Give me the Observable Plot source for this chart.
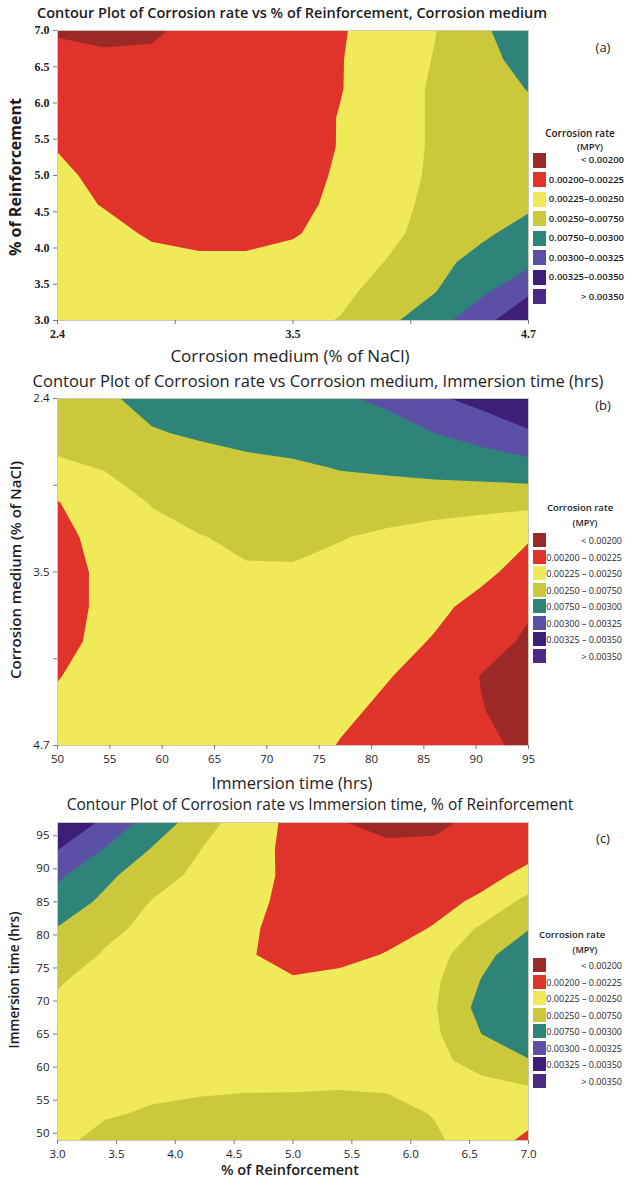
<!DOCTYPE html>
<html><head><meta charset="utf-8">
<script src="https://cdn.jsdelivr.net/npm/d3@7"></script>
<script src="https://cdn.jsdelivr.net/npm/@observablehq/plot@0.6"></script>
<style>
body{margin:0;background:#fff;}
#page{position:relative;width:635px;height:1180px;overflow:hidden;background:#fff;}
#page svg{position:absolute;left:0;}
</style></head>
<body><div id="page"></div>
<script>
// ---------- legend ----------
const rateThresholds = [0.00200, 0.00225, 0.00250, 0.00275, 0.00300, 0.00325, 0.00350];
const levelLabels = ["< 0.00200", "0.00200 – 0.00225", "0.00225 – 0.00250", "0.00250 – 0.00750",
  "0.00750 – 0.00300", "0.00300 – 0.00325", "0.00325 – 0.00350", "> 0.00350"];
const levelLabelsA = ["< 0.00200", "0.00200–0.00225", "0.00225–0.00250", "0.00250–0.00750",
  "0.00750–0.00300", "0.00300–0.00325", "0.00325–0.00350", "> 0.00350"];
const levelColors = ["#9b2a27", "#e0332b", "#f0ea58", "#cbc93b", "#2f8479", "#5b4fa6", "#3d1f7a", "#4c2a84"];

// ---------- panel (a): x = corrosion medium, y = % reinforcement ----------
const mediumA = [2.40, 2.63, 2.86, 3.09, 3.32, 3.55, 3.78, 4.01, 4.24, 4.47, 4.70];
const reinfA = [3.0, 3.4, 3.8, 4.2, 4.6, 5.0, 5.4, 5.8, 6.2, 6.6, 7.0];
const rateA = [
  [0.00239, 0.00238, 0.00236, 0.00238, 0.00240, 0.00244, 0.00251, 0.00270, 0.00289, 0.00318, 0.00342],
  [0.00236, 0.00234, 0.00233, 0.00233, 0.00235, 0.00239, 0.00245, 0.00258, 0.00274, 0.00295, 0.00322],
  [0.00234, 0.00231, 0.00230, 0.00229, 0.00229, 0.00233, 0.00239, 0.00251, 0.00268, 0.00283, 0.00294],
  [0.00234, 0.00230, 0.00223, 0.00219, 0.00219, 0.00223, 0.00234, 0.00245, 0.00258, 0.00271, 0.00284],
  [0.00231, 0.00224, 0.00218, 0.00215, 0.00215, 0.00219, 0.00230, 0.00243, 0.00255, 0.00264, 0.00271],
  [0.00229, 0.00220, 0.00214, 0.00213, 0.00213, 0.00216, 0.00228, 0.00239, 0.00254, 0.00261, 0.00266],
  [0.00224, 0.00218, 0.00213, 0.00211, 0.00211, 0.00215, 0.00226, 0.00238, 0.00253, 0.00260, 0.00265],
  [0.00220, 0.00215, 0.00211, 0.00210, 0.00210, 0.00214, 0.00226, 0.00238, 0.00253, 0.00261, 0.00269],
  [0.00215, 0.00211, 0.00209, 0.00209, 0.00210, 0.00214, 0.00224, 0.00238, 0.00253, 0.00264, 0.00276],
  [0.00206, 0.00205, 0.00205, 0.00208, 0.00210, 0.00215, 0.00224, 0.00236, 0.00251, 0.00268, 0.00283],
  [0.00198, 0.00193, 0.00196, 0.00208, 0.00211, 0.00216, 0.00223, 0.00235, 0.00249, 0.00271, 0.00290]
];
const mediumTicks = [2.4, 2.975, 3.55, 4.125, 4.7];
const mediumTickLabels = ["2.4", "", "3.5", "", "4.7"];
const reinfTicksA = [3.0, 3.5, 4.0, 4.5, 5.0, 5.5, 6.0, 6.5, 7.0];

// ---------- panel (b): x = immersion time, y = corrosion medium ----------
const timeB = [50, 54.5, 59, 63.5, 68, 72.5, 77, 81.5, 86, 90.5, 95];
const mediumB = [2.40, 2.63, 2.86, 3.09, 3.32, 3.55, 3.78, 4.01, 4.24, 4.47, 4.70];
const rateB = [
  [0.00265, 0.00271, 0.00283, 0.00288, 0.00291, 0.00295, 0.00298, 0.00303, 0.00321, 0.00333, 0.00340],
  [0.00258, 0.00265, 0.00273, 0.00278, 0.00283, 0.00286, 0.00289, 0.00294, 0.00300, 0.00309, 0.00323],
  [0.00246, 0.00251, 0.00259, 0.00264, 0.00268, 0.00271, 0.00276, 0.00279, 0.00283, 0.00286, 0.00290],
  [0.00224, 0.00240, 0.00251, 0.00259, 0.00263, 0.00265, 0.00264, 0.00261, 0.00259, 0.00258, 0.00257],
  [0.00218, 0.00233, 0.00244, 0.00249, 0.00254, 0.00255, 0.00251, 0.00246, 0.00241, 0.00235, 0.00226],
  [0.00215, 0.00230, 0.00238, 0.00244, 0.00248, 0.00248, 0.00244, 0.00238, 0.00234, 0.00228, 0.00220],
  [0.00215, 0.00230, 0.00236, 0.00240, 0.00243, 0.00243, 0.00239, 0.00233, 0.00228, 0.00221, 0.00204],
  [0.00218, 0.00231, 0.00236, 0.00239, 0.00240, 0.00239, 0.00235, 0.00230, 0.00224, 0.00213, 0.00195],
  [0.00224, 0.00234, 0.00238, 0.00239, 0.00239, 0.00238, 0.00233, 0.00226, 0.00218, 0.00199, 0.00190],
  [0.00230, 0.00236, 0.00239, 0.00239, 0.00239, 0.00236, 0.00229, 0.00221, 0.00214, 0.00201, 0.00190],
  [0.00234, 0.00238, 0.00239, 0.00239, 0.00238, 0.00234, 0.00224, 0.00219, 0.00213, 0.00205, 0.00195]
];
const timeTicksB = [50, 55, 60, 65, 70, 75, 80, 85, 90, 95];

// ---------- panel (c): x = % reinforcement, y = immersion time ----------
const reinfC = [3.0, 3.4, 3.8, 4.2, 4.6, 5.0, 5.4, 5.8, 6.2, 6.6, 7.0];
const timeC = [49, 53, 57, 61, 65, 69, 73, 77, 81, 85, 89, 93, 97];
const rateC = [
  [0.00245, 0.00256, 0.00261, 0.00264, 0.00265, 0.00265, 0.00265, 0.00263, 0.00253, 0.00240, 0.00219],
  [0.00239, 0.00248, 0.00252, 0.00255, 0.00257, 0.00258, 0.00258, 0.00256, 0.00249, 0.00236, 0.00235],
  [0.00238, 0.00240, 0.00246, 0.00247, 0.00248, 0.00248, 0.00249, 0.00248, 0.00243, 0.00243, 0.00249],
  [0.00241, 0.00240, 0.00239, 0.00239, 0.00239, 0.00239, 0.00239, 0.00240, 0.00244, 0.00259, 0.00274],
  [0.00243, 0.00239, 0.00236, 0.00235, 0.00235, 0.00235, 0.00236, 0.00239, 0.00246, 0.00275, 0.00288],
  [0.00246, 0.00240, 0.00236, 0.00234, 0.00233, 0.00233, 0.00235, 0.00239, 0.00248, 0.00283, 0.00294],
  [0.00252, 0.00241, 0.00236, 0.00233, 0.00231, 0.00227, 0.00230, 0.00236, 0.00246, 0.00276, 0.00293],
  [0.00264, 0.00248, 0.00240, 0.00235, 0.00227, 0.00218, 0.00220, 0.00226, 0.00240, 0.00269, 0.00288],
  [0.00274, 0.00256, 0.00244, 0.00238, 0.00229, 0.00216, 0.00214, 0.00219, 0.00226, 0.00254, 0.00274],
  [0.00290, 0.00270, 0.00249, 0.00240, 0.00231, 0.00219, 0.00213, 0.00215, 0.00220, 0.00228, 0.00259],
  [0.00304, 0.00281, 0.00260, 0.00245, 0.00235, 0.00219, 0.00211, 0.00210, 0.00214, 0.00220, 0.00229],
  [0.00326, 0.00299, 0.00274, 0.00251, 0.00233, 0.00220, 0.00209, 0.00204, 0.00205, 0.00213, 0.00220],
  [0.00343, 0.00321, 0.00288, 0.00265, 0.00234, 0.00221, 0.00201, 0.00194, 0.00195, 0.00206, 0.00215]
];
const reinfTicksC = [3.0, 3.5, 4.0, 4.5, 5.0, 5.5, 6.0, 6.5, 7.0];
const timeTicksC = [50, 55, 60, 65, 70, 75, 80, 85, 90, 95];

// ---------- drawing ----------
const page = document.getElementById("page");
const SANS = '"Open Sans", "DejaVu Sans", sans-serif';

function text(txt, x, y, o = {}) {
  const d = document.createElement("div");
  d.textContent = txt;
  const tx = o.align === "right" ? "-100%" : o.align === "left" ? "0" : "-50%";
  d.style.cssText = `position:absolute;left:${x}px;top:${y}px;white-space:nowrap;line-height:1;` +
    `font-family:${o.family || SANS};font-size:${o.size || 12}px;font-weight:${o.weight || 400};color:#1c1c1c;` +
    `transform:translate(${tx},-50%)${o.rotate ? ` rotate(${o.rotate}deg)` : ""};`;
  page.appendChild(d);
}

function legend(cfg) {
  text("Corrosion rate", cfg.titleX, cfg.titleY, {size: cfg.size + 0.5, weight: 600});
  text("(MPY)", cfg.mpyX, cfg.titleY + 14, {size: cfg.size, weight: 600});
  cfg.labels.forEach((lab, i) => {
    const cy = cfg.rowY + i * cfg.pitch;
    const sw = document.createElement("div");
    sw.style.cssText = `position:absolute;left:${cfg.swX}px;top:${cy - cfg.swH / 2}px;width:13px;height:${cfg.swH}px;background:${levelColors[i]};`;
    page.appendChild(sw);
    text(lab, cfg.textRight, cy, {size: cfg.size, weight: cfg.weight, align: "right"});
  });
}

function panel(cfg) {
  const dx = cfg.xs[1] - cfg.xs[0], dy = cfg.ys[1] - cfg.ys[0];
  const xLab = new Map(cfg.xTicks.map((t, i) => [t, cfg.xLabels[i]]));
  const yLab = new Map(cfg.yTicks.map((t, i) => [t, cfg.yLabels[i]]));
  const tf = cfg.tickFont;
  const svg = Plot.plot({
    width: 635, height: cfg.height,
    marginLeft: 57, marginRight: 107, marginTop: cfg.mt, marginBottom: cfg.mb,
    x: {domain: cfg.xdom}, y: {domain: cfg.ydom},
    color: {type: "threshold", domain: rateThresholds, range: levelColors},
    style: {fontFamily: SANS, fontSize: "11px", color: "#1c1c1c", background: "transparent"},
    marks: [
      Plot.contour(cfg.rates.flat(), {
        width: cfg.xs.length, height: cfg.ys.length,
        x1: cfg.xs[0] - dx / 2, x2: cfg.xs[cfg.xs.length - 1] + dx / 2,
        y1: cfg.ys[0] - dy / 2, y2: cfg.ys[cfg.ys.length - 1] + dy / 2,
        fill: Plot.identity, thresholds: [0, ...rateThresholds], clip: true
      }),
      Plot.frame({stroke: "#c9c9b8"}),
      Plot.axisX({ticks: cfg.xTicks, tickFormat: d => xLab.get(d), tickSize: 4, tickPadding: 5,
        stroke: "#777", label: null, fontFamily: tf.family, fontWeight: tf.weight, fontSize: tf.size}),
      Plot.axisY({ticks: cfg.yTicks, tickFormat: d => yLab.get(d), tickSize: 4, tickPadding: 4,
        stroke: "#777", label: null, fontFamily: tf.family, fontWeight: tf.weight, fontSize: tf.size})
    ]
  });
  svg.style.top = cfg.top + "px";
  page.appendChild(svg);
}

// panel (a)
panel({
  top: 0, height: 380, mt: 30, mb: 60,
  xs: mediumA, ys: reinfA, rates: rateA, xdom: [2.4, 4.7], ydom: [3.0, 7.0],
  xTicks: mediumTicks, xLabels: mediumTickLabels,
  yTicks: reinfTicksA, yLabels: reinfTicksA.map(d => d.toFixed(1)),
  tickFont: {family: '"Liberation Serif", serif', weight: "bold", size: 12}
});
text("Contour Plot of Corrosion rate vs % of Reinforcement, Corrosion medium", 292, 13, {size: 14.5, weight: 600});
text("(a)", 603, 47, {size: 13});
text("% of Reinforcement", 15, 177, {size: 16, weight: 700, rotate: -90});
text("Corrosion medium (% of NaCl)", 290, 355, {size: 17, weight: 500});
legend({labels: levelLabelsA, titleX: 580, titleY: 133, mpyX: 590, rowY: 160, pitch: 19.5, swX: 533, swH: 15, textRight: 624, size: 9.5, weight: 600});

// panel (b)
panel({
  top: 390, height: 400, mt: 8, mb: 45,
  xs: timeB, ys: mediumB, rates: rateB, xdom: [50, 95], ydom: [4.7, 2.4],
  xTicks: timeTicksB, xLabels: timeTicksB.map(String),
  yTicks: mediumTicks, yLabels: mediumTickLabels,
  tickFont: {family: SANS, weight: 400, size: 11.5}
});
text("Contour Plot of Corrosion rate vs Corrosion medium, Immersion time (hrs)", 318, 381, {size: 16.5, weight: 400});
text("(b)", 603, 405, {size: 13});
text("Corrosion medium (% of NaCl)", 15, 570, {size: 15, weight: 600, rotate: -90});
text("Immersion time (hrs)", 292, 783, {size: 16.5, weight: 500});
legend({labels: levelLabels, titleX: 580, titleY: 508, mpyX: 585, rowY: 540, pitch: 16.5, swX: 533, swH: 14, textRight: 622, size: 9, weight: 400});

// panel (c)
panel({
  top: 815, height: 365, mt: 7, mb: 40,
  xs: reinfC, ys: timeC, rates: rateC, xdom: [3.0, 7.0], ydom: [48.9, 97],
  xTicks: reinfTicksC, xLabels: reinfTicksC.map(d => d.toFixed(1)),
  yTicks: timeTicksC, yLabels: timeTicksC.map(String),
  tickFont: {family: SANS, weight: 400, size: 11.5}
});
text("Contour Plot of Corrosion rate vs Immersion time, % of Reinforcement", 320, 805, {size: 15.5, weight: 400});
text("(c)", 603, 838, {size: 13});
text("Immersion time (hrs)", 15, 980, {size: 13.5, weight: 600, rotate: -90});
text("% of Reinforcement", 290, 1170, {size: 14.5, weight: 600});
legend({labels: levelLabels, titleX: 572, titleY: 935, mpyX: 585, rowY: 965, pitch: 16.5, swX: 533, swH: 14, textRight: 622, size: 9, weight: 400});
</script>
</body></html>
